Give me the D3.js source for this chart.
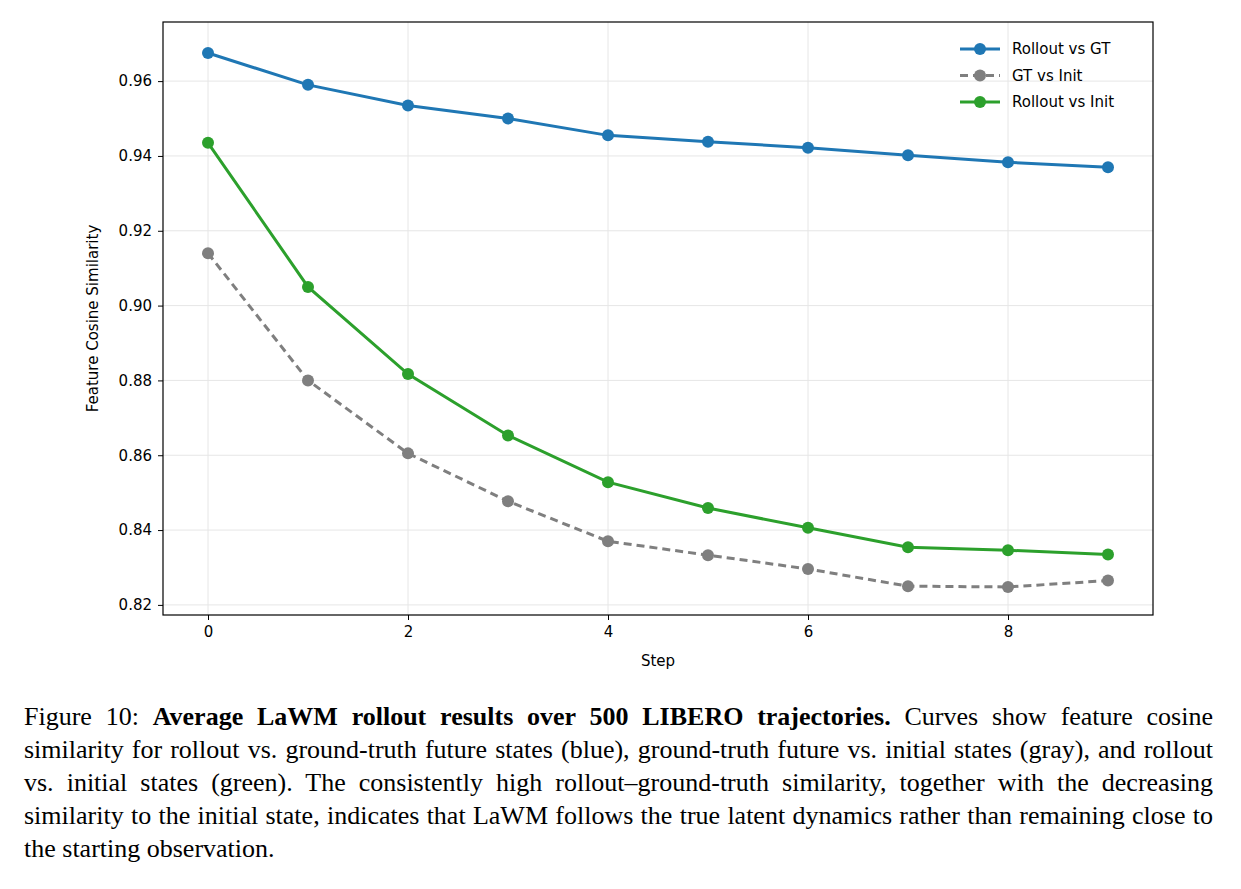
<!DOCTYPE html>
<html><head><meta charset="utf-8">
<script src="https://cdn.jsdelivr.net/npm/d3@7"></script>
<style>
body{margin:0;background:#fff;}
#cap{position:absolute;left:24px;top:700px;width:1189px;font-family:"Liberation Serif","Times New Roman",serif;font-size:26px;line-height:33px;text-align:justify;color:#000;}
</style></head><body>
<svg width="1241" height="690"></svg>
<div id="cap">Figure 10: <b>Average LaWM rollout results over 500 LIBERO trajectories.</b> Curves show feature cosine similarity for rollout vs. ground-truth future states (blue), ground-truth future vs. initial states (gray), and rollout vs. initial states (green). The consistently high rollout–ground-truth similarity, together with the decreasing similarity to the initial state, indicates that LaWM follows the true latent dynamics rather than remaining close to the starting observation.</div>
<script>
const steps = [0,1,2,3,4,5,6,7,8,9];
const rolloutVsGT = [0.9675,0.959,0.9535,0.950,0.9455,0.9438,0.9422,0.9402,0.9383,0.937];
const gtVsInit = [0.914,0.880,0.8605,0.8477,0.837,0.8333,0.8296,0.825,0.8248,0.8265];
const rolloutVsInit = [0.9435,0.905,0.8817,0.8653,0.8528,0.8459,0.8406,0.8354,0.8346,0.8335];
const xTicks = [0,2,4,6,8];
const yTicks = [0.82,0.84,0.86,0.88,0.90,0.92,0.94,0.96];

const series = [
  {name:'Rollout vs GT', values: rolloutVsGT, color:'#1f77b4', dash:null},
  {name:'GT vs Init', values: gtVsInit, color:'#7f7f7f', dash:'8,5'},
  {name:'Rollout vs Init', values: rolloutVsInit, color:'#2ca02c', dash:null}
];

let pl = 163, pt = 22, pr = 1153, pb = 615;
let svg = d3.select('svg').style('font-family','DejaVu Sans, sans-serif');
let x = d3.scaleLinear().domain([-0.45,9.45]).range([pl,pr]);
let y = d3.scaleLinear().domain([0.8173,0.9758]).range([pb,pt]);

// grid
svg.append('g').selectAll('line').data(yTicks).join('line')
  .attr('x1',pl).attr('x2',pr).attr('y1',d=>y(d)).attr('y2',d=>y(d))
  .attr('stroke','#e6e6e6').attr('stroke-width',1);
svg.append('g').selectAll('line').data(xTicks).join('line')
  .attr('y1',pt).attr('y2',pb).attr('x1',d=>x(d)).attr('x2',d=>x(d))
  .attr('stroke','#e6e6e6').attr('stroke-width',1);

let xAxis = svg.append('g').attr('transform',`translate(0,${pb})`)
  .call(d3.axisBottom(x).tickValues(xTicks).tickFormat(d3.format('d')).tickSize(5).tickPadding(6));
let yAxis = svg.append('g').attr('transform',`translate(${pl},0)`)
  .call(d3.axisLeft(y).tickValues(yTicks).tickFormat(d3.format('.2f')).tickSize(5).tickPadding(6));
[xAxis,yAxis].forEach(a=>{
  a.select('.domain').remove();
  a.selectAll('text').attr('font-size',15).attr('fill','#000').style('font-family','DejaVu Sans, sans-serif');
  a.selectAll('line').attr('stroke','#000');
});
svg.append('rect').attr('x',pl).attr('y',pt).attr('width',pr-pl).attr('height',pb-pt)
  .attr('fill','none').attr('stroke','#000').attr('stroke-width',1.2);

svg.append('text').attr('x',(pl+pr)/2).attr('y',666).attr('text-anchor','middle')
  .attr('font-size',15).text('Step');
svg.append('text').attr('transform',`translate(98,${(pt+pb)/2}) rotate(-90)`)
  .attr('text-anchor','middle').attr('font-size',15).text('Feature Cosine Similarity');

let line = d3.line().x((d,i)=>x(steps[i])).y(d=>y(d));
series.forEach(s=>{
  svg.append('path').datum(s.values).attr('d',line).attr('fill','none')
    .attr('stroke',s.color).attr('stroke-width',3).attr('stroke-dasharray',s.dash);
  svg.append('g').selectAll('circle').data(s.values).join('circle')
    .attr('cx',(d,i)=>x(steps[i])).attr('cy',d=>y(d)).attr('r',6).attr('fill',s.color);
});

// legend
let lg = svg.append('g');
series.forEach((s,i)=>{
  let yy = 49 + i*26.5;
  lg.append('line').attr('x1',960).attr('x2',1000).attr('y1',yy).attr('y2',yy)
    .attr('stroke',s.color).attr('stroke-width',3).attr('stroke-dasharray',s.dash);
  lg.append('circle').attr('cx',980).attr('cy',yy).attr('r',6).attr('fill',s.color);
  lg.append('text').attr('x',1012).attr('y',yy+5).attr('font-size',15).text(s.name);
});
</script></body></html>
